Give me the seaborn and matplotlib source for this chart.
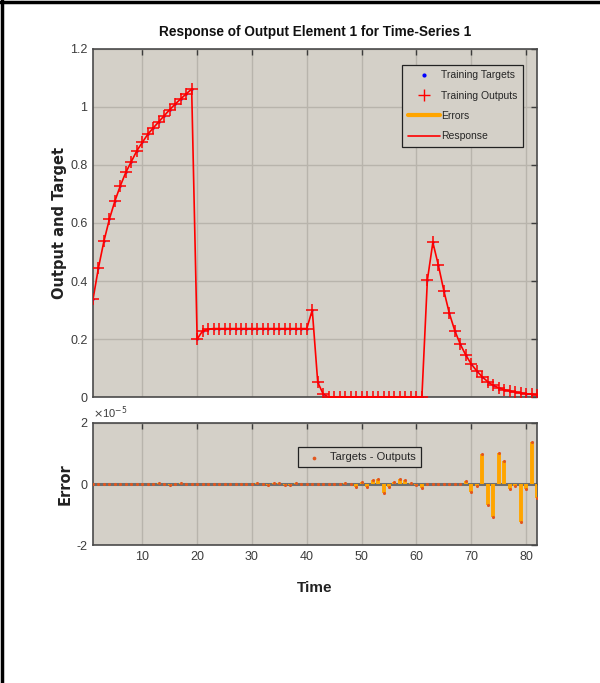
import matplotlib
matplotlib.use("Agg")
import matplotlib.pyplot as plt
from matplotlib.lines import Line2D
import numpy as np
import pandas as pd
import seaborn as sns

# ---- data -------------------------------------------------------------
time = list(range(1, 83))

targets = [
    0.337, 0.446, 0.538, 0.614, 0.676, 0.729, 0.775, 0.812, 0.849, 0.878,
    0.906, 0.928, 0.949, 0.970, 0.991, 1.010, 1.028, 1.045, 1.062,
    0.200, 0.228, 0.234,
    0.236, 0.236, 0.236, 0.236, 0.236, 0.236, 0.236, 0.236, 0.236,
    0.236, 0.236, 0.236, 0.236, 0.236, 0.236, 0.236, 0.236, 0.236,
    0.300, 0.051, 0.010,
    0.0, 0.0, 0.0, 0.0, 0.0, 0.0, 0.0, 0.0, 0.0,
    0.0, 0.0, 0.0, 0.0, 0.0, 0.0, 0.0, 0.0, 0.0,
    0.403, 0.533, 0.455, 0.367, 0.289, 0.229, 0.182, 0.145, 0.114, 0.090,
    0.070, 0.053, 0.040, 0.032, 0.025, 0.021, 0.017, 0.014, 0.011, 0.010,
    0.008,
]

# targets - outputs, in units of 1e-5
errors_e5 = [
    0, 0, 0, 0, 0, 0, 0, 0, 0, 0, 0, 0,
    0.03, 0, -0.04, 0, 0.03,
    0, 0, 0, 0, 0, 0, 0, 0, 0, 0, 0, 0, 0,
    0.04, 0, -0.04, 0.02, 0.04, -0.04, -0.04, 0.03,
    0, 0, 0, 0, 0, 0, 0, 0,
    0.04, 0, -0.09, 0.07, -0.09, 0.13, 0.17, -0.28, -0.09, 0.07,
    0.17, 0.13, 0.04, -0.04, -0.13,
    0, 0, 0, 0, 0, 0, 0,
    0.09, -0.25, -0.08, 0.98, -0.68, -1.09, 1.00, 0.76, -0.16, -0.08,
    -1.23, -0.16, 1.38, -0.46,
]

top_yticks = [0, 0.2, 0.4, 0.6, 0.8, 1.0, 1.2]
top_yticklabels = ["0", "0.2", "0.4", "0.6", "0.8", "1", "1.2"]
err_yticks = [-2, 0, 2]
xticks = [10, 20, 30, 40, 50, 60, 70, 80]

df = pd.DataFrame({"Time": time, "Target": targets, "ErrorE5": errors_e5})
df["Output"] = df["Target"] - df["ErrorE5"] * 1e-5

# ---- style ------------------------------------------------------------
sns.set_style("whitegrid")
FACE = "#d4d0c8"
GRID = "#b8b4ac"
TICKC = "#3c3c3c"
LABELFONT = ["Liberation Sans", "DejaVu Sans"]
plt.rcParams["font.family"] = ["Liberation Sans", "DejaVu Sans"]
plt.rcParams.update({
    "axes.facecolor": FACE,
    "axes.edgecolor": "#4a4a4a",
    "axes.linewidth": 1.2,
    "grid.color": GRID,
    "grid.linewidth": 1.0,
    "xtick.direction": "in",
    "ytick.direction": "in",
    "xtick.color": TICKC,
    "ytick.color": TICKC,
    "xtick.labelcolor": TICKC,
    "ytick.labelcolor": TICKC,
})

fig = plt.figure(figsize=(6.0, 6.83), dpi=100)
fig.patch.set_facecolor("white")

ax = fig.add_axes([0.155, 0.4187, 0.74, 0.5096])
axe = fig.add_axes([0.155, 0.2020, 0.74, 0.1787])

for a in (ax, axe):
    a.set_facecolor(FACE)
    a.grid(True)
    a.set_axisbelow(True)
    a.tick_params(which="both", top=True, right=True, length=4, width=1,
                  labelsize=9, pad=4)
    a.set_xlim(1, 82)
    a.set_xticks(xticks)
    for s in a.spines.values():
        s.set_visible(True)
        s.set_color("#4a4a4a")

# ---- response panel ---------------------------------------------------
sns.lineplot(data=df, x="Time", y="Output", ax=ax, color="#ff0000",
             linewidth=1.2, legend=False)
sns.scatterplot(data=df, x="Time", y="Target", ax=ax, marker=".",
                color="#0000ff", s=12, linewidth=0, zorder=4, legend=False)
sns.scatterplot(data=df, x="Time", y="Output", ax=ax, marker="+",
                color="#ff0000", s=75, linewidth=1.1, zorder=5, legend=False)

ax.set_ylim(0, 1.2)
ax.set_yticks(top_yticks)
ax.set_yticklabels(top_yticklabels)
ax.set_xticklabels([])
ax.set_xlabel("")
ax.set_ylabel("Output and Target", fontsize=10.5, fontweight="bold",
              color="#222222", family=["DejaVu Sans"])
ax.yaxis.set_label_coords(-0.0585, 0.5)
ax.set_title("Response of Output Element 1 for Time-Series 1", fontsize=9.8,
             fontweight="bold", color="#111111", pad=9)

handles = [
    Line2D([], [], linestyle="none", marker=".", color="#0000ff", markersize=4),
    Line2D([], [], linestyle="none", marker="+", color="#ff0000", markersize=8,
           markeredgewidth=1.0),
    Line2D([], [], color="#ffa500", linewidth=3),
    Line2D([], [], color="#ff0000", linewidth=1.2),
]
labels = ["Training Targets", "Training Outputs", "Errors", "Response"]
leg = ax.legend(handles, labels, loc="upper right",
                bbox_to_anchor=(0.9685, 0.954), borderaxespad=0,
                fontsize=7.5, frameon=True, fancybox=False, framealpha=1,
                edgecolor="#222222", handlelength=3.1, handletextpad=0.15,
                labelspacing=1.0, borderpad=0.5)
leg.get_frame().set_linewidth(0.9)

# ---- error panel ------------------------------------------------------
axe.axhline(0, color="#6e6e6e", linewidth=2.2, zorder=2)
axe.vlines(df["Time"], 0, df["ErrorE5"], color="#ffa500", linewidth=2.8, zorder=3)
sns.scatterplot(data=df, x="Time", y="ErrorE5", ax=axe, marker="o",
                color="#e2571e", s=5, linewidth=0, zorder=4,
                label="Targets - Outputs")
axe.set_ylim(-2, 2)
axe.set_yticks(err_yticks)
axe.set_yticklabels(["-2", "0", "2"])
axe.set_xticklabels([str(v) for v in xticks])
axe.set_xlabel("Time", fontsize=11, fontweight="bold", color="#222222",
               family=LABELFONT, labelpad=13)
axe.set_ylabel("Error", fontsize=10.5, fontweight="bold", color="#222222",
               family=["DejaVu Sans"])
axe.yaxis.set_label_coords(-0.046, 0.5)
axe.text(0.0, 1.02, r"$\times$10$^{-5}$", transform=axe.transAxes,
         fontsize=8, color=TICKC, ha="left", va="bottom")
leg2 = axe.legend(loc="upper center", bbox_to_anchor=(0.6, 0.845), fontsize=8,
                  frameon=True, fancybox=False, framealpha=1,
                  edgecolor="#222222", handlelength=2.0, handletextpad=0.5,
                  borderpad=0.45, markerscale=1.2)
leg2.get_frame().set_linewidth(0.9)

# ---- outer frame (top and left edges) ---------------------------------
fig.add_artist(Line2D([0, 1], [0.9965, 0.9965], transform=fig.transFigure,
                      color="black", linewidth=2.5))
fig.add_artist(Line2D([0.003, 0.003], [0, 1], transform=fig.transFigure,
                      color="black", linewidth=2.5))

fig.savefig("out.png", dpi=100, facecolor="white")
